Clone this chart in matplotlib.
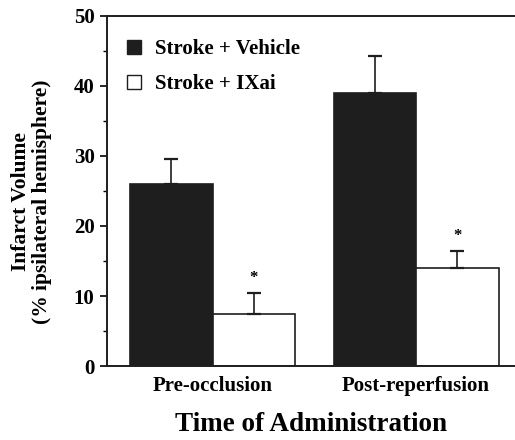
import numpy as np
import matplotlib.pyplot as plt
from matplotlib.patches import Patch
from matplotlib.ticker import MultipleLocator

# dados
grupos = ['Pre-occlusion', 'Post-reperfusion']
veiculo = [26.0, 39.0]
veiculo_erro = [3.6, 5.3]
ixai = [7.4, 14.0]
ixai_erro = [3.0, 2.4]

plt.rcParams['font.family'] = ['Liberation Serif', 'DejaVu Serif']
plt.rcParams['font.weight'] = 'bold'

fig = plt.figure(figsize=(5.15, 4.4), dpi=100)
ax = fig.add_axes([0.208, 0.168, 0.792, 0.796])

x = np.arange(len(grupos))
w = 0.405
ax.bar(x - w / 2, veiculo, w, color='#1e1e1e', edgecolor='#1e1e1e', linewidth=1.2,
       yerr=[np.zeros(2), veiculo_erro], capsize=5, error_kw=dict(ecolor='#1e1e1e', elinewidth=1.2, capthick=1.6))
ax.bar(x + w / 2, ixai, w, color='white', edgecolor='#1e1e1e', linewidth=1.2,
       yerr=[np.zeros(2), ixai_erro], capsize=5, error_kw=dict(ecolor='#1e1e1e', elinewidth=1.2, capthick=1.6))

# asteriscos
for i in range(len(grupos)):
    ax.text(x[i] + w / 2, ixai[i] + ixai_erro[i] + 1.0, '*', ha='center', va='bottom', fontsize=12)

ax.set_xlim(-0.518, 1.486)
ax.set_ylim(0, 50)
ax.yaxis.set_major_locator(MultipleLocator(10))
ax.yaxis.set_minor_locator(MultipleLocator(5))
ax.set_xticks(x)
ax.set_xticklabels(grupos, fontsize=15, fontweight='bold')
ax.tick_params(axis='x', length=0, pad=7)
ax.tick_params(axis='y', which='major', length=5, width=1.2, labelsize=15, direction='out', pad=4)
ax.tick_params(axis='y', which='minor', length=3, width=1.0, direction='out')
for lbl in ax.get_yticklabels():
    lbl.set_fontweight('bold')

ax.spines['right'].set_visible(False)
for s in ['left', 'top', 'bottom']:
    ax.spines[s].set_linewidth(1.4)
    ax.spines[s].set_color('#1e1e1e')

ax.set_ylabel('Infarct Volume\n(% ipsilateral hemisphere)', fontsize=15.5, fontweight='bold',
              linespacing=1.05)
ax.yaxis.set_label_coords(-0.135, 0.469)
ax.set_xlabel('Time of Administration', fontsize=19.5, fontweight='bold', labelpad=12)

handles = [Patch(facecolor='#1e1e1e', edgecolor='#1e1e1e', label='Stroke + Vehicle'),
           Patch(facecolor='white', edgecolor='#1e1e1e', label='Stroke + IXai')]
ax.legend(handles=handles, loc='upper left', frameon=False,
          handlelength=0.65, handleheight=0.65, handletextpad=0.7, labelspacing=0.7,
          bbox_to_anchor=(0.003, 0.986), prop={'weight': 'bold', 'size': 15})

fig.savefig('out.png', dpi=100)
